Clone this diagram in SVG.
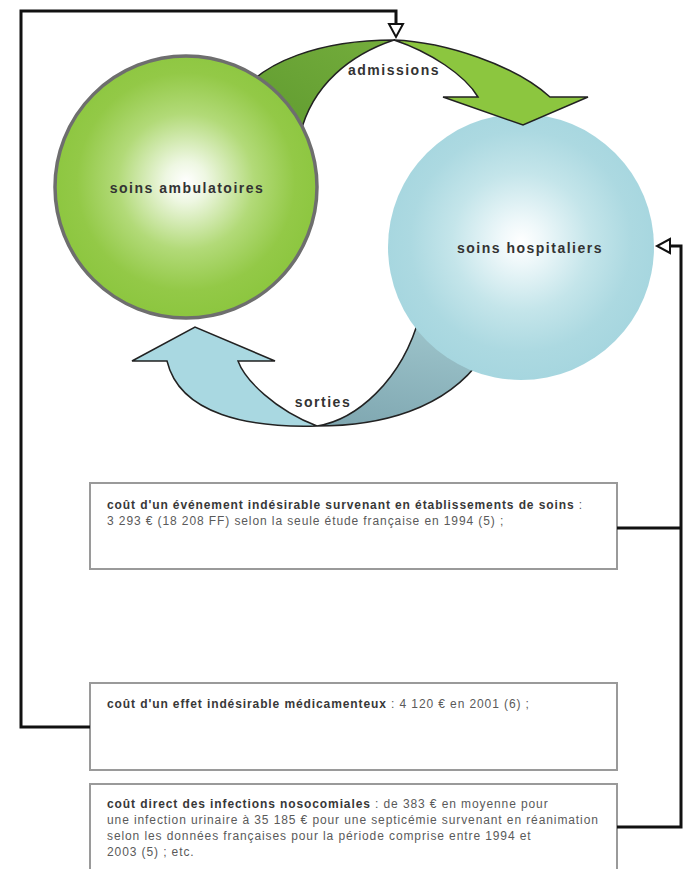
<svg xmlns="http://www.w3.org/2000/svg" width="691" height="869" viewBox="0 0 691 869">
<defs>
<radialGradient id="gGreen" cx="50%" cy="48%" r="52%">
<stop offset="0" stop-color="#ffffff"/>
<stop offset="0.15" stop-color="#eef7e2"/>
<stop offset="0.5" stop-color="#b2da78"/>
<stop offset="0.8" stop-color="#93c947"/>
<stop offset="1" stop-color="#8cc63f"/>
</radialGradient>
<radialGradient id="gBlue" cx="50%" cy="48%" r="52%">
<stop offset="0" stop-color="#ffffff"/>
<stop offset="0.15" stop-color="#eff8fa"/>
<stop offset="0.5" stop-color="#c4e5ea"/>
<stop offset="0.8" stop-color="#acd9e1"/>
<stop offset="1" stop-color="#a6d6df"/>
</radialGradient>
<linearGradient id="gDarkBlue" x1="0" y1="1" x2="0.3" y2="0">
<stop offset="0" stop-color="#7ea6b0"/>
<stop offset="1" stop-color="#9cc3ca"/>
</linearGradient>
<linearGradient id="gDarkGreen" x1="0" y1="1" x2="1" y2="0">
<stop offset="0" stop-color="#5f9a2f"/>
<stop offset="1" stop-color="#74ad3c"/>
</linearGradient>
<style>
.rib{stroke:#222;stroke-width:1.5;stroke-linejoin:miter}
.lbl{font-family:"Liberation Sans",Arial,sans-serif;font-weight:bold;font-size:14px;letter-spacing:1.5px;fill:#333;text-anchor:middle}
.box{fill:#fff;stroke:#9a9a9a;stroke-width:2}
.txt{font-family:"Liberation Sans",Arial,sans-serif;font-size:12px;letter-spacing:0.9px;fill:#5a5a5a}
.b{font-weight:bold;fill:#383838}
.con{fill:none;stroke:#111;stroke-width:3}
.head{fill:#fff;stroke:#111;stroke-width:2}
</style>
</defs>
<rect width="691" height="869" fill="#fff"/>

<g id="arrow-admissions-back">
<path class="rib" fill="url(#gDarkGreen)" d="M240,95 C262,62 320,40 394,40 C352,54 312,84 300,135 Z"/>
</g>
<g id="arrow-sorties-back">
<path class="rib" fill="url(#gDarkBlue)" d="M317,426 C355,420 402,382 420,315 L482,358 C445,410 380,426 317,426 Z"/>
</g>

<g id="node-ambulatoires">
<circle cx="186" cy="187" r="131" fill="url(#gGreen)" stroke="#6e6e6e" stroke-width="3.5"/>
<text class="lbl" x="187" y="193">soins ambulatoires</text>
</g>
<g id="node-hospitaliers">
<circle cx="521" cy="247" r="133" fill="url(#gBlue)"/>
<text class="lbl" x="530" y="253">soins hospitaliers</text>
</g>

<g id="arrow-admissions">
<path class="rib" fill="#8cc63f" d="M394,40 C445,42 515,65 550,97 L588,97 L523,125 L443,97 L478,97 C465,75 430,52 394,40 Z"/>
<text class="lbl" x="394" y="75">admissions</text>
</g>
<g id="arrow-sorties">
<path class="rib" fill="#a9d8e1" d="M317,426 C250,428 180,415 167,361 L132,361 L195,327 L275,361 L238,361 C245,380 275,410 317,426 Z"/>
<text class="lbl" x="323" y="407">sorties</text>
</g>

<g id="box-evenement">
<rect class="box" x="90" y="483" width="527" height="86"/>
<text class="txt" x="107" y="509"><tspan class="b">coût d'un événement indésirable survenant en établissements de soins</tspan> :</text>
<text class="txt" x="107" y="525">3 293 € (18 208 FF) selon la seule étude française en 1994 (5) ;</text>
</g>
<g id="box-medicamenteux">
<rect class="box" x="90" y="683" width="527" height="87"/>
<text class="txt" x="107" y="708"><tspan class="b">coût d'un effet indésirable médicamenteux</tspan> : 4 120 € en 2001 (6) ;</text>
</g>
<g id="box-nosocomiales">
<rect class="box" x="90" y="784" width="527" height="100"/>
<text class="txt" x="107" y="808"><tspan class="b">coût direct des infections nosocomiales</tspan> : de 383 € en moyenne pour</text>
<text class="txt" x="107" y="824">une infection urinaire à 35 185 € pour une septicémie survenant en réanimation</text>
<text class="txt" x="107" y="840">selon les données françaises pour la période comprise entre 1994 et</text>
<text class="txt" x="107" y="856">2003 (5) ; etc.</text>
</g>

<g id="connectors">
<path class="con" d="M90,727 H21 V11 H396 V24"/>
<path class="head" d="M389,24 L403,24 L396,37 Z"/>
<path class="con" d="M617,528 H681"/>
<path class="con" d="M617,827 H681 V246 H670"/>
<path class="head" d="M670,239 L670,253 L657,246 Z"/>
</g>
</svg>
